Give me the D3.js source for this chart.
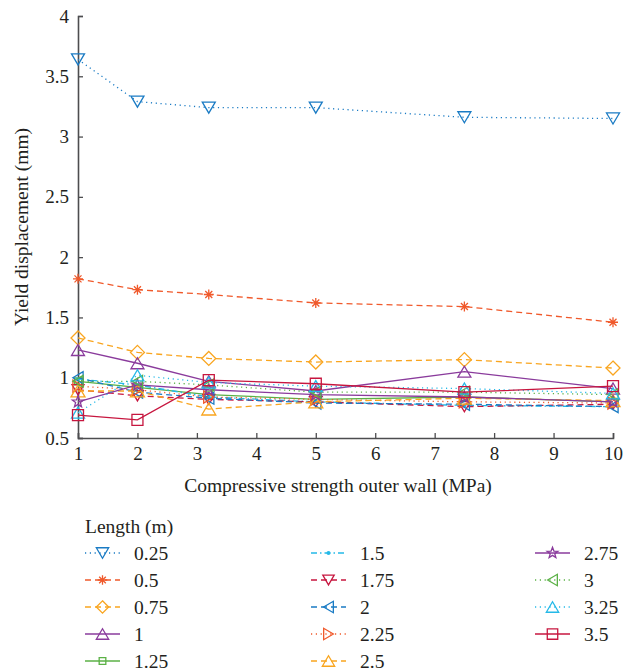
<!DOCTYPE html>
<html>
<head>
<meta charset="utf-8">
<script src="https://cdn.jsdelivr.net/npm/d3@7"></script>
<style>
  body { margin: 0; background: #fff; }
  svg, text { font-family: "Liberation Serif", "Times New Roman", Times, serif; }
  text { fill: #231f20; }
</style>
</head>
<body>
<script>
var width  = 635
var height = 672
var margin = { top: 16, left: 78, right: 22, bottom: 234 }
var font   = '"Liberation Serif", "Times New Roman", Times, serif'

// compressive strength of the outer wall (MPa)
var strength = [1, 2, 3.2, 5, 7.5, 10]
var xTicks = [1, 2, 3, 4, 5, 6, 7, 8, 9, 10]
var yTicks = [0.5, 1, 1.5, 2, 2.5, 3, 3.5, 4]

// yield displacement (mm) for each length (m)
var len025 = [3.64, 3.29, 3.24, 3.24, 3.16, 3.15]
var len050 = [1.82, 1.73, 1.69, 1.62, 1.59, 1.46]
var len075 = [1.33, 1.21, 1.16, 1.13, 1.15, 1.08]
var len100 = [1.23, 1.12, 0.97, 0.89, 1.05, 0.91]
var len125 = [0.97, 0.92, 0.86, 0.82, 0.84, 0.80]
var len150 = [0.99, 0.94, 0.84, 0.80, 0.77, 0.76]
var len175 = [0.90, 0.85, 0.82, 0.80, 0.76, 0.78]
var len200 = [1.00, 0.88, 0.83, 0.79, 0.78, 0.76]
var len225 = [0.93, 0.90, 0.84, 0.82, 0.80, 0.79]
var len250 = [0.89, 0.89, 0.74, 0.80, 0.83, 0.81]
var len275 = [0.80, 0.94, 0.90, 0.86, 0.84, 0.80]
var len300 = [0.97, 0.97, 0.94, 0.88, 0.88, 0.86]
var len325 = [0.71, 1.02, 0.96, 0.93, 0.91, 0.87]
var len350 = [0.69, 0.65, 0.98, 0.95, 0.88, 0.93]

var blue = '#1a7bc4', red = '#f0592b', gold = '#f9a51f', purple = '#8a3b9c',
    green = '#5bb146', cyan = '#25b9e8', crimson = '#c7163f'

var dotted = '1.2,3.6', dashed = '6,4', dashdot = '6,3,1.5,3'

var series = [
  { name: '0.25', values: len025, color: blue,    dash: dotted,  marker: 'down',  size: 6.5 },
  { name: '0.5',  values: len050, color: red,     dash: dashed,  marker: 'ast',   size: 5 },
  { name: '0.75', values: len075, color: gold,    dash: dashed,  marker: 'diam',  size: 7 },
  { name: '1',    values: len100, color: purple,  dash: null,    marker: 'up',    size: 6.5 },
  { name: '1.25', values: len125, color: green,   dash: null,    marker: 'sq',    size: 3.5 },
  { name: '1.5',  values: len150, color: cyan,    dash: dashdot, marker: 'pt',    size: 2 },
  { name: '1.75', values: len175, color: crimson, dash: dashed,  marker: 'down',  size: 6 },
  { name: '2',    values: len200, color: blue,    dash: dashed,  marker: 'left',  size: 6 },
  { name: '2.25', values: len225, color: red,     dash: dotted,  marker: 'right', size: 6 },
  { name: '2.5',  values: len250, color: gold,    dash: dashed,  marker: 'up',    size: 7 },
  { name: '2.75', values: len275, color: purple,  dash: null,    marker: 'star',  size: 6 },
  { name: '3',    values: len300, color: green,   dash: dotted,  marker: 'left',  size: 6 },
  { name: '3.25', values: len325, color: cyan,    dash: dotted,  marker: 'up',    size: 6.5 },
  { name: '3.5',  values: len350, color: crimson, dash: null,    marker: 'sq',    size: 5.5 }
]

// marker outlines centred on the origin
function markerPath(type, s) {
  var h = s * 0.85
  switch (type) {
    case 'down':  return 'M' + [-s, -h] + 'L' + [s, -h] + 'L' + [0, h] + 'Z'
    case 'up':    return 'M' + [-s, h] + 'L' + [s, h] + 'L' + [0, -h] + 'Z'
    case 'left':  return 'M' + [h, -s] + 'L' + [h, s] + 'L' + [-h, 0] + 'Z'
    case 'right': return 'M' + [-h, -s] + 'L' + [-h, s] + 'L' + [h, 0] + 'Z'
    case 'diam':  return 'M' + [0, -s] + 'L' + [s, 0] + 'L' + [0, s] + 'L' + [-s, 0] + 'Z'
    case 'sq':    return 'M' + [-s, -s] + 'H' + s + 'V' + s + 'H' + (-s) + 'Z'
    case 'ast':
      var d = s * 0.7
      return 'M' + [-s, 0] + 'H' + s + 'M' + [0, -s] + 'V' + s +
             'M' + [-d, -d] + 'L' + [d, d] + 'M' + [-d, d] + 'L' + [d, -d]
    case 'star':
      var pts = []
      for (var i = 0; i < 10; i++) {
        var r = i % 2 ? s * 0.42 : s
        var a = -Math.PI / 2 + i * Math.PI / 5
        pts.push([r * Math.cos(a), r * Math.sin(a)])
      }
      return 'M' + pts.join('L') + 'Z'
  }
  return ''
}

function drawMarker(g, d, s) {
  if (d.marker === 'pt') {
    g.append('circle').attr('r', s).attr('fill', d.color)
  } else {
    g.append('path')
      .attr('d', markerPath(d.marker, s))
      .attr('fill', 'none')
      .attr('stroke', d.color)
      .attr('stroke-width', 1.3)
  }
}

var svg = d3.select('body')
  .append('svg')
  .attr('width', width)
  .attr('height', height)
  .attr('font-family', font)

var xScale = d3.scaleLinear()
  .domain([1, 10])
  .range([margin.left, width - margin.right])

var yScale = d3.scaleLinear()
  .domain([0.5, 4])
  .range([height - margin.bottom, margin.top])

var xAxis = d3.axisBottom(xScale)
  .tickValues(xTicks)
  .tickSize(-5)
  .tickPadding(9)
  .tickFormat(d3.format('d'))

var yAxis = d3.axisLeft(yScale)
  .tickValues(yTicks)
  .tickSize(-5)
  .tickPadding(9)
  .tickFormat(d => String(d))

var gx = svg.append('g')
  .attr('transform', 'translate(' + [0, height - margin.bottom] + ')')
  .call(xAxis)

var gy = svg.append('g')
  .attr('transform', 'translate(' + [margin.left, 0] + ')')
  .call(yAxis)

;[gx, gy].forEach(g => {
  g.attr('font-family', font).attr('font-size', 19)
  g.select('.domain').attr('stroke', '#4d4d4f').attr('stroke-width', 1.6)
  g.selectAll('.tick line').attr('stroke', '#4d4d4f').attr('stroke-width', 1.3)
  g.selectAll('.tick text').attr('fill', '#231f20')
})

svg.append('text')
  .attr('x', 338)
  .attr('y', 492)
  .attr('text-anchor', 'middle')
  .attr('font-size', 19.5)
  .text('Compressive strength outer wall (MPa)')

svg.append('text')
  .attr('transform', 'translate(28,' + (margin.top + height - margin.bottom) / 2 + ') rotate(-90)')
  .attr('text-anchor', 'middle')
  .attr('font-size', 19.5)
  .text('Yield displacement (mm)')

var line = d3.line()
  .x((d, i) => xScale(strength[i]))
  .y(d => yScale(d))

var plot = svg.append('g')

series.forEach(s => {
  plot.append('path')
    .datum(s.values)
    .attr('d', line)
    .attr('fill', 'none')
    .attr('stroke', s.color)
    .attr('stroke-width', 1.3)
    .attr('stroke-dasharray', s.dash)

  s.values.forEach((v, i) => {
    var g = plot.append('g')
      .attr('transform', 'translate(' + [xScale(strength[i]), yScale(v)] + ')')
    drawMarker(g, s, s.size)
  })
})

// legend: title plus three columns of entries
var legend = svg.append('g')

legend.append('text')
  .attr('x', 85)
  .attr('y', 533)
  .attr('font-size', 19.5)
  .text('Length (m)')

var colX = [85, 311, 535]
var rowY = [553, 580, 607, 634, 661]

series.forEach((s, i) => {
  var col = Math.floor(i / 5), row = i % 5
  var g = legend.append('g')
    .attr('transform', 'translate(' + [colX[col], rowY[row]] + ')')
  g.append('line')
    .attr('x1', 0).attr('x2', 35)
    .attr('stroke', s.color)
    .attr('stroke-width', 1.3)
    .attr('stroke-dasharray', s.dash)
  var m = g.append('g').attr('transform', 'translate(17.5,0)')
  drawMarker(m, s, s.marker === 'pt' ? 2 : Math.min(s.size, 6.5) * 0.95)
  g.append('text')
    .attr('x', 49)
    .attr('dy', '0.35em')
    .attr('font-size', 19.5)
    .text(s.name)
})
</script>
</body>
</html>
